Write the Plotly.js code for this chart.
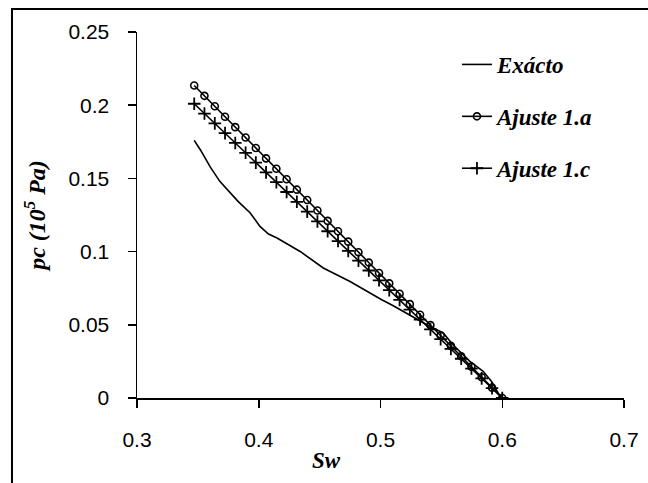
<!DOCTYPE html>
<html>
<head>
<meta charset="utf-8">
<script src="https://cdn.plot.ly/plotly-3.0.1.min.js"></script>
<style>html,body{margin:0;padding:0;background:#fff;}#chart{width:648px;height:483px;}</style>
</head>
<body>
<div id="chart"></div>
<script>
// Sw values shared by the two fitted series
const swFit = [0.347, 0.3554, 0.3639, 0.3723, 0.3807, 0.3892, 0.3976, 0.406, 0.4145, 0.4229,
  0.4313, 0.4398, 0.4482, 0.4566, 0.4651, 0.4735, 0.4819, 0.4904, 0.4988, 0.5072,
  0.5157, 0.5241, 0.5325, 0.541, 0.5494, 0.5578, 0.5663, 0.5747, 0.5831, 0.5916, 0.6];
const pcAjusteA = [0.2135, 0.2064, 0.1993, 0.1921, 0.185, 0.1779, 0.1708, 0.1637, 0.1566, 0.1494,
  0.1423, 0.1352, 0.1281, 0.121, 0.1139, 0.1068, 0.0996, 0.0925, 0.0854, 0.0783,
  0.0712, 0.0641, 0.0569, 0.0498, 0.0427, 0.0356, 0.0285, 0.0214, 0.0142, 0.0071, 0];
const pcAjusteC = [0.201, 0.1943, 0.1876, 0.1809, 0.1742, 0.1675, 0.1608, 0.1541, 0.1474, 0.1407,
  0.134, 0.1273, 0.1206, 0.1139, 0.1072, 0.1005, 0.0938, 0.0871, 0.0804, 0.0737,
  0.067, 0.0603, 0.0536, 0.0469, 0.0402, 0.0335, 0.0268, 0.0201, 0.0134, 0.0067, 0];
// Exact curve
const swExacto = [0.347, 0.352, 0.360, 0.368, 0.383, 0.393, 0.401, 0.408, 0.415, 0.434,
  0.453, 0.475, 0.501, 0.5105, 0.538, 0.5515, 0.5595, 0.5734, 0.5843, 0.5912, 0.5966, 0.6];
const pcExacto = [0.176, 0.1696, 0.158, 0.148, 0.1343, 0.1264, 0.1172, 0.112, 0.1093, 0.1001,
  0.0888, 0.0796, 0.0671, 0.063, 0.050, 0.0444, 0.0364, 0.025, 0.0182, 0.0113, 0.0034, 0];
const seriesNames = ["Exácto", "Ajuste 1.a", "Ajuste 1.c"];
const xTicks = [0.3, 0.4, 0.5, 0.6, 0.7];
const yTicks = [0, 0.05, 0.1, 0.15, 0.2, 0.25];
const xTitle = "Sw";
const yTitle = "pc (10<sup>5</sup> Pa)";

const serifFam = "Liberation Serif, Times New Roman, serif";
const legendFont = {family: serifFam, size: 23, color: "#000", weight: "bold", style: "italic"};
const titleFont = {family: serifFam, size: 23, color: "#000", weight: "bold", style: "italic"};
const yTitleFont = {family: serifFam, size: 24, color: "#000", weight: "bold", style: "italic"};
const sans = {family: "Liberation Sans, Arial, sans-serif", size: 21, color: "#000"};

const traces = [
  {x: swExacto, y: pcExacto, name: seriesNames[0], mode: "lines", legendgroup: "a",
   line: {color: "#000", width: 1.6}},
  {x: swFit, y: pcAjusteA, name: seriesNames[1], mode: "lines+markers", legendgroup: "b",
   line: {color: "#000", width: 1.6},
   marker: {symbol: "circle-open", size: 7, color: "#000", line: {width: 1.6, color: "#000"}}},
  {x: swFit, y: pcAjusteC, name: seriesNames[2], mode: "lines+markers", legendgroup: "c",
   line: {color: "#000", width: 1.6},
   marker: {symbol: "cross-thin-open", size: 9, color: "#000", line: {width: 1.8, color: "#000"}}}
];

const layout = {
  width: 648, height: 483,
  margin: {l: 137, r: 24, t: 32, b: 85},
  paper_bgcolor: "#fff", plot_bgcolor: "#fff",
  showlegend: true,
  legend: {x: 0.657, xanchor: "left", y: 0.97, yanchor: "top", font: legendFont,
           bgcolor: "rgba(0,0,0,0)", traceorder: "grouped", tracegroupgap: 19},
  xaxis: {range: [0.3, 0.7], tickvals: xTicks, ticktext: xTicks.map(String), ticks: "outside", ticklen: 8,
          tickwidth: 1.5, tickcolor: "#000", showline: true, linecolor: "#000", linewidth: 1.5,
          showgrid: false, zeroline: false, tickfont: sans, ticklabelstandoff: 14},
  yaxis: {range: [0, 0.25], tickvals: yTicks, ticktext: yTicks.map(String), ticks: "outside", ticklen: 8,
          tickwidth: 1.5, tickcolor: "#000", showline: true, linecolor: "#000", linewidth: 1.5,
          showgrid: false, zeroline: false, tickfont: sans, ticklabelstandoff: 14,
          title: {text: yTitle, font: yTitleFont, standoff: 16}},
  annotations: [{text: xTitle, xref: "paper", yref: "paper", x: 0.39, y: -0.172,
                 xanchor: "center", yanchor: "middle", showarrow: false, font: titleFont}],
  shapes: [{type: "path", xref: "paper", yref: "paper",
            path: "M -0.2567 -0.3 L -0.2567 1.0628 L 1.1 1.0628",
            line: {color: "#000", width: 2}}]
};

Plotly.newPlot("chart", traces, layout, {staticPlot: true, displayModeBar: false});
</script>
</body>
</html>
